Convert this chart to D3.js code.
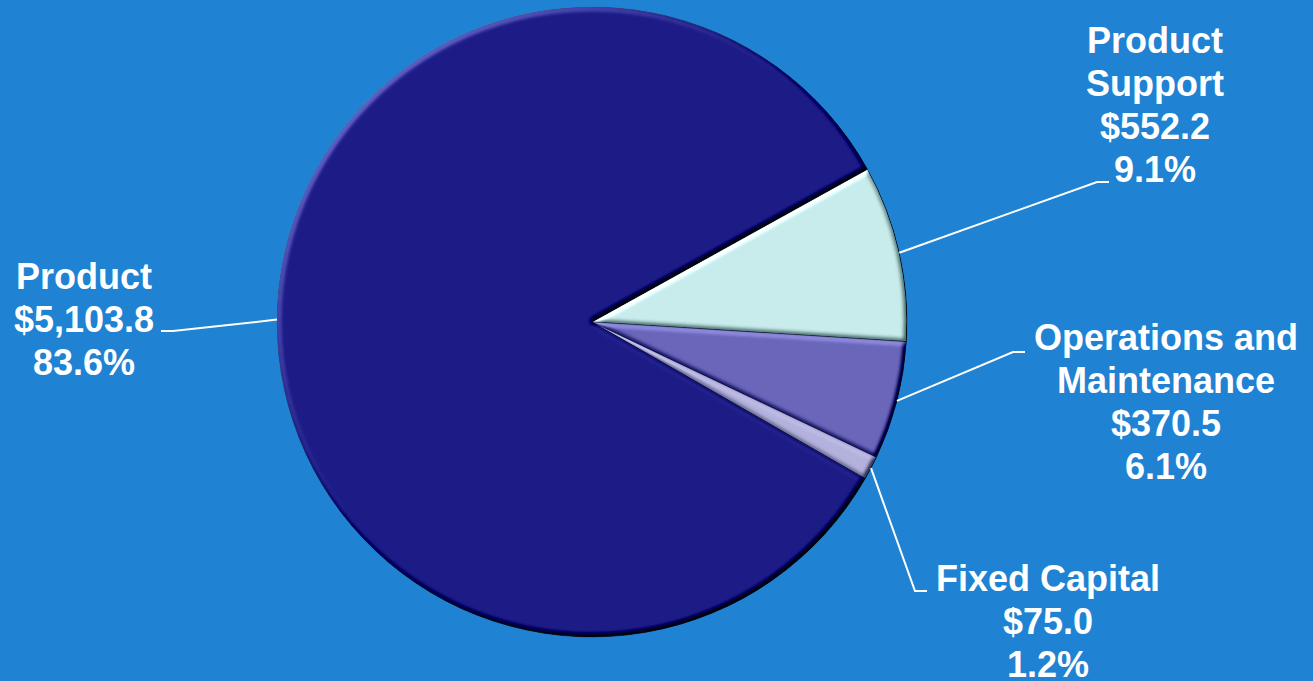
<!DOCTYPE html>
<html>
<head>
<meta charset="utf-8">
<script src="https://cdn.jsdelivr.net/npm/d3@7"></script>
<style>
  html, body { margin: 0; padding: 0; background: #1f82d2; overflow: hidden; }
  svg { display: block; }
  text { font-family: "Liberation Sans", Arial, sans-serif; font-weight: bold; fill: #ffffff; }
</style>
</head>
<body>
<svg id="chart" width="1313" height="681"></svg>
<script>
// Cost breakdown ($ millions), drawn clockwise from Product Support
const categories = ["Product Support", "Operations and Maintenance", "Fixed Capital", "Product"];
const values = [552.2, 370.5, 75.0, 5103.8];
const nameLines = [["Product", "Support"], ["Operations and", "Maintenance"], ["Fixed Capital"], ["Product"]];
const sliceColors = ["#c8ecec", "#6a67ba", "#b2b2dc", "#1d1b86"];

// Label placement: centre x / first baseline, and the elbow of each leader line
const labelAnchor = [[1155, 53], [1166, 350], [1048, 591], [84, 289]];
const leaderElbow = [[1097, 182], [1013, 352], [915, 591], [173, 331]];
const leaderEnd = [[1109, 182], [1025, 352], [927, 591], [161, 331]];

const W = 1313, H = 681;
const cx = 592, cy = 322, R = 315;
const lineHeight = 43;
const deg = Math.PI / 180;

const svg = d3.select("#chart");
svg.append("rect").attr("width", W).attr("height", H).attr("fill", "#1f82d2");

// Bevel: diffuse light from the upper left on a blurred alpha bump
const defs = svg.append("defs");
const f = defs.append("filter").attr("id", "bevel")
  .attr("x", "-5%").attr("y", "-5%").attr("width", "110%").attr("height", "110%")
  .attr("color-interpolation-filters", "sRGB");
f.append("feGaussianBlur").attr("in", "SourceAlpha").attr("stdDeviation", 2.8).attr("result", "blur");
f.append("feDiffuseLighting").attr("in", "blur").attr("surfaceScale", 4)
  .attr("diffuseConstant", 1).attr("lighting-color", "#ffffff").attr("result", "light")
  .append("feDistantLight").attr("azimuth", 225).attr("elevation", 40);
f.append("feComposite").attr("in", "SourceGraphic").attr("in2", "light")
  .attr("operator", "arithmetic").attr("k1", 0).attr("k2", 1).attr("k3", 0.72)
  .attr("k4", -0.72 * Math.sin(40 * deg)).attr("result", "lit");
f.append("feComposite").attr("in", "lit").attr("in2", "SourceAlpha").attr("operator", "in");

const total = d3.sum(values);
const data = categories.map((c, i) => ({ name: c, value: values[i], i }));

const pie = d3.pie().sort(null).value(d => d.value)
  .startAngle(61 * deg).endAngle(61 * deg + 2 * Math.PI);
const arcs = pie(data);
const arc = d3.arc().innerRadius(0).outerRadius(R);

const g = svg.append("g").attr("transform", `translate(${cx},${cy})`);
g.selectAll("path.slice").data(arcs).join("path")
  .attr("class", "slice")
  .attr("d", arc)
  .attr("fill", d => sliceColors[d.data.i])
  .attr("stroke", "#2a2a55")
  .attr("stroke-opacity", 0.6)
  .attr("stroke-width", 1)
  .attr("filter", "url(#bevel)");

// Leader lines from the rim at each slice's mid angle
const fmtMoney = d3.format("$,.1f");
const fmtPct = d3.format(".1%");

arcs.forEach(d => {
  const i = d.data.i;
  const mid = (d.startAngle + d.endAngle) / 2;
  const p0 = [cx + R * Math.sin(mid), cy - R * Math.cos(mid)];
  svg.append("polyline")
    .attr("points", [p0, leaderElbow[i], leaderEnd[i]].map(p => p.join(",")).join(" "))
    .attr("fill", "none").attr("stroke", "#ffffff").attr("stroke-width", 2);

  const lines = nameLines[i].concat([fmtMoney(d.data.value), fmtPct(d.data.value / total)]);
  const t = svg.append("text")
    .attr("text-anchor", "middle")
    .attr("font-size", 36);
  lines.forEach((s, k) => {
    t.append("tspan").attr("x", labelAnchor[i][0]).attr("y", labelAnchor[i][1] + k * lineHeight).text(s);
  });
});
</script>
</body>
</html>
